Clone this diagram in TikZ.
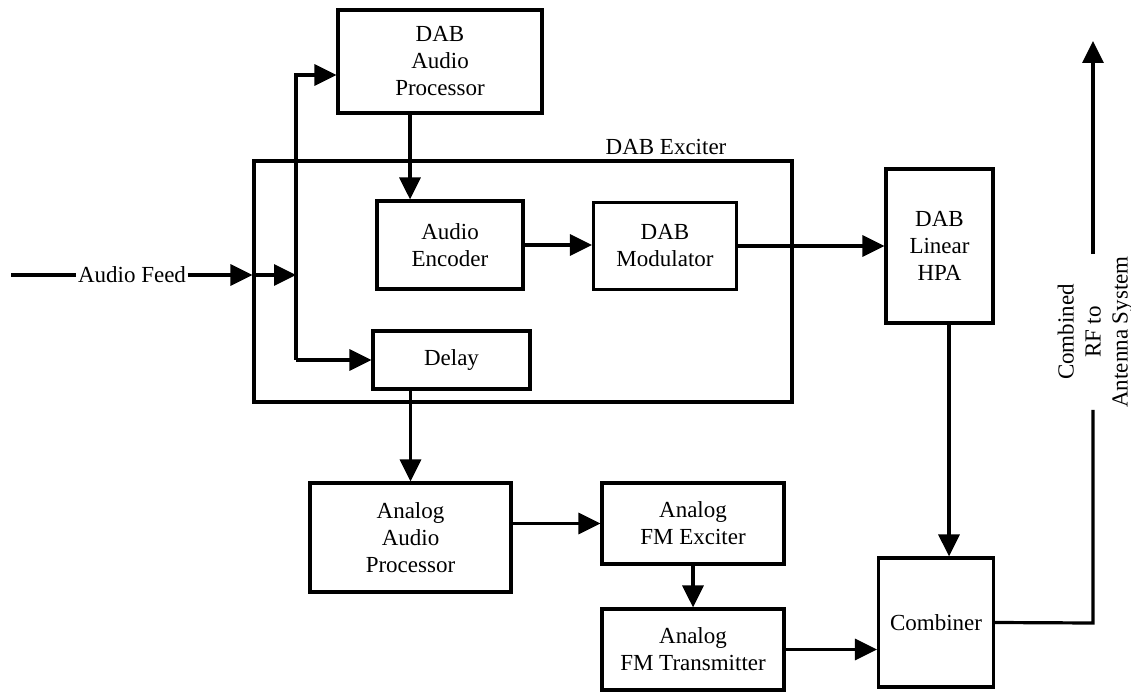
\documentclass[tikz,border=0pt]{standalone}
\usepackage{fontspec}
\setmainfont{Liberation Serif}
\usetikzlibrary{arrows.meta}
\begin{document}
\begin{tikzpicture}[x=1pt,y=-1pt,
  every node/.style={font=\fontsize{23}{27}\selectfont},
  blk/.style={draw, line width=3.2pt, align=center, inner sep=0pt},
  wire/.style={line width=3.2pt},
  arr/.style={wire, -{Triangle[length=22pt,width=21pt]}},
  lbl/.style={inner sep=1.5pt, align=center}]
\useasboundingbox (0,0) rectangle (1131,692);

% exciter frame and its title
\node[blk, minimum width=538pt, minimum height=241pt] (exc) at (523,281.5) {};
\node[lbl] (exctitle) at (666,147) {DAB Exciter};

% processing blocks
\node[blk, minimum width=204pt, minimum height=103pt] (dap)   at (440,61.5)  {DAB\\Audio\\Processor};
\node[blk, minimum width=146pt, minimum height=88pt]  (enc)   at (450,245)   {Audio\\Encoder};
\node[blk, minimum width=143pt, minimum height=87pt]  (mod)   at (665,246)   {DAB\\Modulator};
\node[blk, minimum width=107pt, minimum height=154pt] (hpa)   at (939.5,246) {DAB\\Linear\\HPA};
\node[blk, minimum width=157pt, minimum height=58pt]  (delay) at (451.5,360) {Delay};
\node[blk, minimum width=201pt, minimum height=109pt] (aap)   at (410.5,537.5) {Analog\\Audio\\Processor};
\node[blk, minimum width=182pt, minimum height=81pt]  (fmx)   at (693,523.5) {Analog\\FM Exciter};
\node[blk, minimum width=182pt, minimum height=81pt]  (fmt)   at (693,649.5) {Analog\\FM Transmitter};
\node[blk, minimum width=115pt, minimum height=129pt] (comb)  at (936,622.5) {Combiner};

% audio input
\coordinate (src) at (11,275);
\node[lbl] (feed) at (132,275) {Audio Feed};
\coordinate (split) at (296,275);
\coordinate (upper) at (296,75);
\coordinate (lower) at (296,360);
\draw[wire] (src) -- (feed.west);
\draw[arr] (feed.east) -- (exc.west |- feed);
\draw[arr] (exc.west |- feed) -- (split);
\draw[arr] (lower) -- (upper) -- (dap.west |- upper);
\draw[arr] (lower) -- (delay.west);

% DAB path
\draw[arr] ([xshift=-30pt]dap.south) -- ([xshift=-30pt]dap.south |- enc.north);
\draw[arr] (enc.east) -- (enc.east -| mod.west);
\draw[arr] (mod.east) -- (hpa.west);
\draw[arr] ([xshift=9.5pt]hpa.south) -- ([xshift=9.5pt]hpa.south |- comb.north);

% analog FM path
\draw[arr] (aap.north |- delay.south) -- (aap.north);
\draw[arr] (aap.east |- fmx.west) -- (fmx.west);
\draw[arr] (fmx.south) -- (fmt.north);
\draw[arr] (fmt.east) -- (fmt.east -| comb.west);

% combined output to antenna
\node[lbl, rotate=90, inner sep=2pt] (out) at (1095,332) {Combined\\RF to\\Antenna System};
\coordinate (turn) at (1093,623);
\coordinate (ant) at (1093,41);
\draw[wire] (comb.east) -- (turn) -- (turn |- out.west);
\draw[arr] (turn |- out.east) -- (ant);
\end{tikzpicture}
\end{document}
